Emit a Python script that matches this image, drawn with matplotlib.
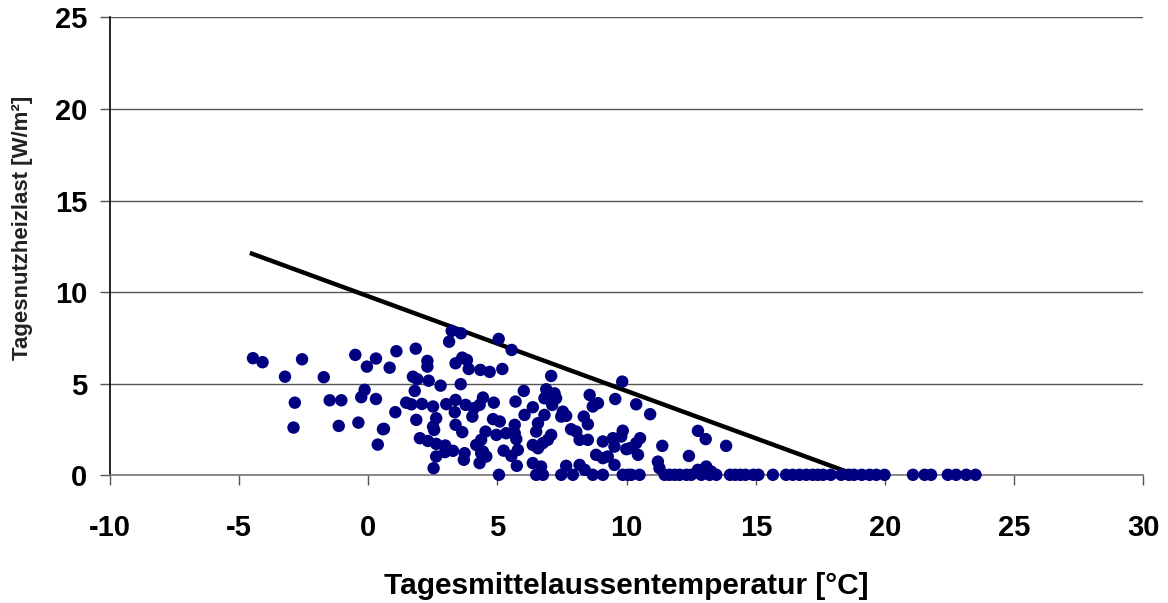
import matplotlib
matplotlib.use("Agg")
import matplotlib.pyplot as plt

plt.rcParams["font.family"] = ["Liberation Sans", "DejaVu Sans"]

# daily mean outdoor temperature [°C] and daily heating load [W/m²]
temp_scatter = [
    -4.46, -4.09, -2.56, -3.22, -1.72, -2.84, -2.89, -1.49, -1.04, -1.14,
    -0.50, -0.05, 0.30, -0.14, -0.27, 0.30, -0.38, 0.57, 0.37,
    1.09, 0.83, 1.84, 2.29, 2.29, 1.73, 1.90, 2.34, 2.80, 1.80, 1.47,
    1.67, 2.08, 2.51, 1.05, 1.86, 2.63, 2.51, 2.55, 0.61, 2.00,
    2.31, 2.63, 2.63, 2.53,
    3.23, 3.59, 3.13, 3.38, 3.64, 3.82, 3.89, 4.34, 4.70, 5.19,
    3.58, 3.02, 3.38, 3.77, 4.09, 4.31, 4.44, 3.35, 4.03, 3.38,
    3.64, 2.98, 3.28, 2.97, 3.73, 3.70, 4.18, 4.37, 4.54, 4.37,
    4.31, 4.44, 4.57,
    5.05, 5.55, 9.83, 7.08, 6.02, 6.89, 7.21, 6.82, 7.08, 7.27,
    7.12, 8.57, 8.89, 8.69, 9.56, 5.70, 4.86, 6.37, 6.05, 6.82,
    7.53, 7.66, 7.47, 8.34, 8.50, 4.83, 5.09, 5.67, 6.57, 6.50,
    4.96, 5.34, 5.67, 5.73, 7.08, 6.95, 6.76, 6.37, 7.85, 8.05,
    8.50, 9.08, 9.47, 9.85, 9.79, 9.99, 9.53, 5.24, 5.54, 5.79,
    5.75, 5.06, 6.37, 6.69, 6.50, 6.76, 7.47, 7.66, 7.92, 8.18,
    8.38, 8.69, 8.82, 9.08, 9.27, 9.53, 9.08, 9.85, 10.05, 6.57,
    8.18,
    10.37, 10.91, 12.76, 13.06, 13.85, 10.52, 10.37, 10.12, 10.44, 11.38,
    12.41, 11.21, 11.27, 12.76, 13.08, 13.27,
    10.18, 10.50, 11.47, 11.66, 11.86, 12.05, 12.31, 12.50, 12.89, 13.21,
    13.47, 14.0, 14.2, 14.4, 14.6, 14.9, 15.1, 15.66, 16.17, 16.43,
    16.69, 16.95, 17.2, 17.4, 17.6, 17.9, 18.3, 18.6, 18.8, 19.1,
    19.4, 19.66, 19.98, 21.08, 21.53, 21.78, 22.43, 22.75, 23.14, 23.5,
]
load_scatter = [
    6.39, 6.17, 6.33, 5.38, 5.35, 3.96, 2.60, 4.09, 4.09, 2.69,
    6.57, 5.93, 6.37, 4.66, 4.26, 4.16, 2.87, 2.51, 1.67,
    6.77, 5.87, 6.91, 6.24, 5.93, 5.38, 5.24, 5.16, 4.89, 4.60, 3.96,
    3.87, 3.89, 3.75, 3.44, 3.02, 3.11, 2.65, 2.47, 2.53, 2.02,
    1.87, 1.71, 1.02, 0.38,
    7.88, 7.75, 7.29, 6.11, 6.42, 6.29, 5.80, 5.75, 5.64, 5.80,
    4.97, 3.88, 4.11, 3.84, 3.66, 3.84, 4.24, 3.44, 3.20, 2.75,
    2.35, 1.62, 1.33, 1.26, 1.20, 0.84, 1.65, 1.93, 2.38, 1.20,
    0.66, 1.29, 1.02,
    7.44, 6.84, 5.11, 5.42, 4.60, 4.69, 4.47, 4.20, 4.11, 4.20,
    3.84, 4.38, 3.93, 3.75, 4.16, 4.02, 3.96, 3.71, 3.29, 3.29,
    3.47, 3.24, 3.20, 3.20, 2.78, 3.06, 2.93, 2.75, 2.84, 2.38,
    2.20, 2.29, 2.29, 1.97, 2.20, 1.93, 1.75, 1.65, 2.51, 2.38,
    1.93, 1.84, 2.02, 2.43, 2.11, 1.42, 1.56, 1.34, 1.05, 1.38,
    0.51, 0.02, 0.66, 0.47, 0.02, 0.02, 0.02, 0.51, 0.02, 0.56,
    0.29, 0.02, 1.11, 0.93, 1.02, 0.56, 0.02, 0.02, 0.02, 1.47,
    1.93,
    3.87, 3.33, 2.42, 1.97, 1.60, 2.02, 1.75, 1.47, 1.11, 1.60,
    1.05, 0.74, 0.38, 0.29, 0.47, 0.20,
    0.02, 0.02, 0.02, 0.02, 0.02, 0.02, 0.02, 0.02, 0.02, 0.02,
    0.02, 0.02, 0.02, 0.02, 0.02, 0.02, 0.02, 0.02, 0.02, 0.02,
    0.02, 0.02, 0.02, 0.02, 0.02, 0.02, 0.02, 0.02, 0.02, 0.02,
    0.02, 0.02, 0.02, 0.02, 0.02, 0.02, 0.02, 0.02, 0.02, 0.02,
]

# limit line (design heating load)
temp_line = [-4.5, 18.6]
load_line = [12.1, 0.15]

x_ticks = [-10, -5, 0, 5, 10, 15, 20, 25, 30]
y_ticks = [0, 5, 10, 15, 20, 25]

fig = plt.figure(figsize=(11.68, 6.03), dpi=100)
ax = fig.add_axes([0.094, 0.212, 0.885, 0.759])

ax.plot(temp_line, load_line, color="black", linewidth=3.2, zorder=3)
ax.scatter(temp_scatter, load_scatter, s=80, color="#000080",
           edgecolors="none", zorder=4, clip_on=False)

ax.set_xlim(-10, 30)
ax.set_ylim(0, 25)
ax.set_xticks(x_ticks)
ax.set_yticks(y_ticks)
ax.set_xticklabels([str(t) for t in x_ticks], fontsize=21, fontweight="bold")
ax.set_yticklabels([str(t) for t in y_ticks], fontsize=21, fontweight="bold")

ax.yaxis.grid(True, color="#555555", linewidth=1.0)
ax.set_axisbelow(True)
ax.spines["top"].set_visible(False)
ax.spines["right"].set_visible(False)
ax.spines["left"].set_color("black")
ax.spines["left"].set_linewidth(1.2)
ax.spines["bottom"].set_color("#777777")
ax.spines["bottom"].set_linewidth(1.2)
ax.tick_params(axis="y", length=7, width=1, color="#555555", pad=9)
ax.tick_params(axis="x", length=7, width=1, color="#555555", pad=21)

ax.set_xlabel("Tagesmittelaussentemperatur [°C]", fontsize=21.5,
              fontweight="bold")
ax.xaxis.set_label_coords(0.5, -0.212)
ax.set_ylabel("Tagesnutzheizlast [W/m²]", fontsize=16, fontweight="bold",
              color="#222222")
ax.yaxis.set_label_coords(-0.074, 0.54)

fig.savefig("out.png", dpi=100)
